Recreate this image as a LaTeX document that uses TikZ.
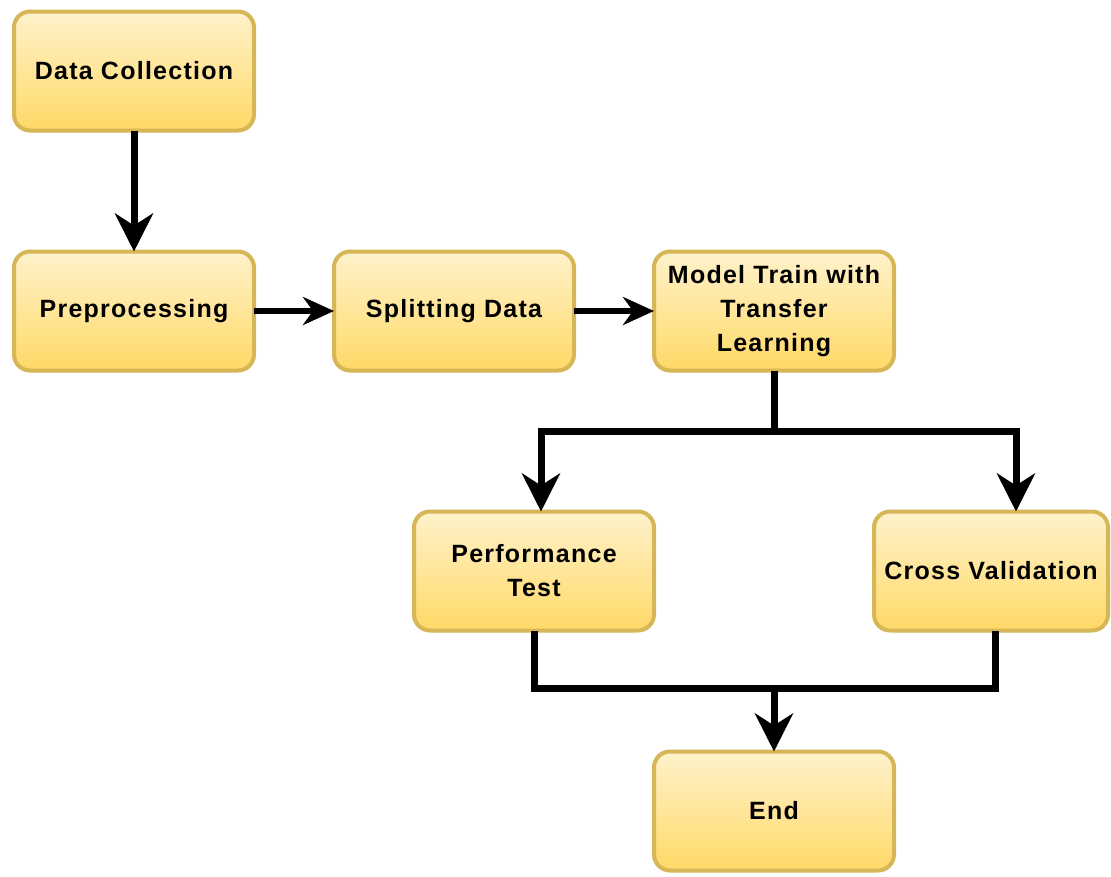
\documentclass[tikz,border=0pt]{standalone}
\usepackage{fontspec}
\setmainfont{Liberation Sans}[LetterSpace=5]
\usetikzlibrary{arrows.meta}
\definecolor{boxedge}{HTML}{D6B656}
\definecolor{boxtop}{HTML}{FFF2CC}
\definecolor{boxbottom}{HTML}{FFD966}
\begin{document}
\begin{tikzpicture}[x=1pt,y=-1pt,
  stage/.style={draw=boxedge, line width=4pt, rounded corners=16pt,
    top color=boxtop, bottom color=boxbottom,
    minimum width=240pt, minimum height=119pt, inner sep=0pt, outer sep=0pt,
    align=center, font=\fontsize{25}{34}\selectfont\bfseries},
  conn/.style={line width=7pt, draw=black},
  hconn/.style={line width=5.5pt, draw=black},
  vtip/.style={-{Stealth[length=38pt,width=38pt,inset=12pt]}},
  htip/.style={-{Stealth[length=31pt,width=28pt,inset=10pt]}}]

  % canvas
  \fill[white] (0,0) rectangle (1111,876);
  \useasboundingbox (0,0) rectangle (1111,876);

  % stages
  \node[stage] (dc)    at (134,71)  {Data Collection};
  \node[stage] (pre)   at (134,311) {Preprocessing};
  \node[stage] (split) at (454,311) {Splitting Data};
  \node[stage] (model) at (774,311) {Model Train with\\Transfer\\Learning};
  \node[stage] (perf)  at (534,571) {Performance\\Test};
  \node[stage, minimum width=234pt] (cv) at (991,571) {Cross Validation};
  \node[stage] (end)   at (774,811) {End};

  % junction points
  \coordinate (fork) at (774,431);
  \coordinate (join) at (774,688);

  % connectors
  \draw[conn, vtip] (dc.south) -- (pre.north);
  \draw[hconn, htip] (pre.east) -- (split.west);
  \draw[hconn, htip] (split.east) -- (model.west);
  \draw[conn] (model.south) -- (fork);
  \draw[conn, vtip] (fork) -| ([xshift=7pt]perf.north);
  \draw[conn, vtip] (fork) -| ([xshift=25pt]cv.north);
  \draw[conn] (perf.south) |- (join) -| ([xshift=4pt]cv.south);
  \draw[conn, vtip] (join) -- (end.north);
\end{tikzpicture}
\end{document}
